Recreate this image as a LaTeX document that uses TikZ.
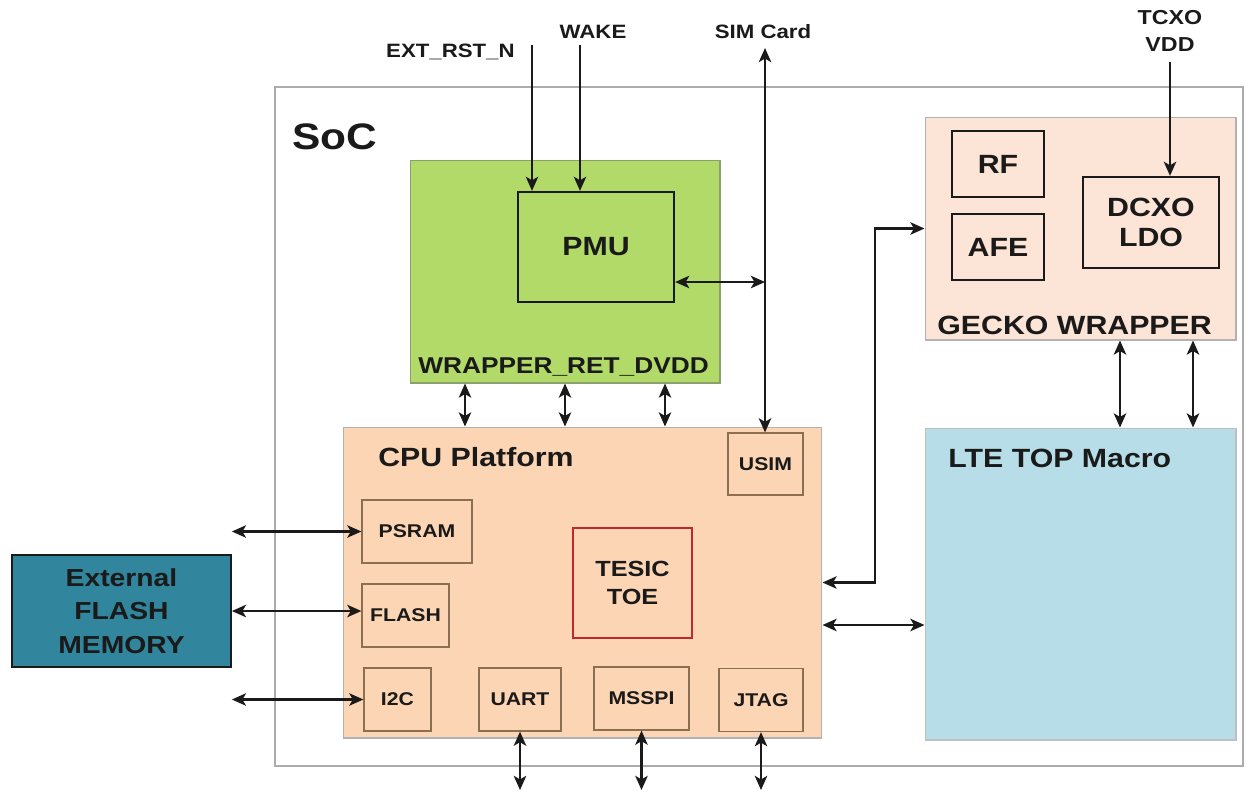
\documentclass[tikz,border=0pt]{standalone}
\usepackage{fontspec}
\setmainfont{Liberation Sans}[FakeStretch=1.15]
\usepackage{xcolor}
\usetikzlibrary{arrows.meta}
\definecolor{wrapcol}{RGB}{178,218,104}
\definecolor{wrapedge}{RGB}{140,160,110}
\definecolor{geckocol}{RGB}{252,228,214}
\definecolor{cpucol}{RGB}{252,213,181}
\definecolor{ltecol}{RGB}{183,222,232}
\definecolor{extcol}{RGB}{49,133,156}
\definecolor{subedge}{RGB}{140,110,80}
\definecolor{toecol}{RGB}{192,40,45}
\definecolor{ink}{RGB}{26,26,26}

\begin{document}
\begin{tikzpicture}[
    x=0.02cm, y=-0.02cm,
    every node/.style={inner sep=0pt, text=ink},
    area/.style={draw=#1, line width=0.6pt},
    box/.style={draw=ink, line width=1.3pt, align=center,
                font=\bfseries\fontsize{15}{17}\selectfont},
    sub/.style={draw=subedge, fill=cpucol, line width=0.7pt,
                minimum height=1.26cm, font=\bfseries\fontsize{10.5}{12}\selectfont},
    ttl/.style={anchor=west, font=\bfseries\fontsize{15}{17}\selectfont},
    pin/.style={font=\bfseries\fontsize{11}{13.5}\selectfont, align=center},
    arr/.style={-{Stealth[length=8pt, width=7pt, inset=2pt]}, line width=1.6pt, ink},
    bi/.style={{Stealth[length=8pt, width=7pt, inset=2pt]}-{Stealth[length=8pt, width=7pt, inset=2pt]},
               line width=1.6pt, ink},
  ]
  \useasboundingbox (0,0) rectangle (1250,792);

  % ── SoC ──
  \node[area=gray!65, line width=0.8pt, minimum width=19.36cm,
        minimum height=13.58cm] (soc) at (759,426.5) {};
  \node[ttl, font=\bfseries\fontsize{21}{24}\selectfont] (soclbl) at (292,137) {SoC};

  % ── Retention wrapper and PMU ──
  \node[area=wrapedge, fill=wrapcol, minimum width=6.2cm,
        minimum height=4.46cm] (wrap) at (565,271.5) {};
  \node[ttl, font=\bfseries\fontsize{13}{15}\selectfont] (wraplbl) at (418,367)
    {WRAPPER\_RET\_DVDD};
  \node[box, fill=wrapcol, minimum width=3.12cm, minimum height=2.2cm] (pmu)
    at (596,247) {PMU};

  % ── Gecko wrapper ──
  \node[area=gray!60, fill=geckocol, minimum width=6.22cm,
        minimum height=4.46cm] (gecko) at (1080.5,228.5) {};
  \node[ttl] (geckolbl) at (937,325) {GECKO WRAPPER};
  \node[box, minimum width=1.84cm, minimum height=1.32cm] (rf)  at (998,164) {RF};
  \node[box, minimum width=1.84cm, minimum height=1.32cm] (afe) at (998,247) {AFE};
  \node[box, minimum width=2.72cm, minimum height=1.82cm] (dcxo) at (1151,222.5)
    {DCXO\\LDO};

  % ── LTE ──
  \node[area=gray!50, fill=ltecol, minimum width=6.22cm,
        minimum height=6.24cm] (lte) at (1080.5,584) {};
  \node[ttl] (ltelbl) at (948,458) {LTE TOP Macro};

  % ── CPU platform ──
  \node[area=gray!60, fill=cpucol, minimum width=9.58cm,
        minimum height=6.22cm] (cpu) at (582.5,582.5) {};
  \node[ttl] (cpulbl) at (378,457) {CPU Platform};
  \node[sub, minimum width=1.5cm, minimum height=1.24cm] (usim) at (765.5,464) {USIM};
  \node[sub, minimum width=2.2cm]  (psram) at (417,531.5) {PSRAM};
  \node[sub, minimum width=1.74cm] (flash) at (405.5,615.5) {FLASH};
  \node[sub, minimum width=1.34cm] (i2c)   at (397.5,699.5) {I2C};
  \node[sub, minimum width=1.64cm] (uart)  at (520,699.5) {UART};
  \node[sub, minimum width=1.9cm]  (msspi) at (641.5,698.5) {MSSPI};
  \node[sub, minimum width=1.68cm] (jtag)  at (761,700) {JTAG};
  \node[box, draw=toecol, line width=1.1pt, minimum width=2.38cm, minimum height=2.2cm,
        font=\bfseries\fontsize{12.5}{16}\selectfont] (toe) at (632.5,583) {TESIC\\TOE};

  % ── External memory ──
  \node[area=ink, fill=extcol, line width=1pt, minimum width=4.38cm,
        minimum height=2.24cm, align=center,
        font=\bfseries\fontsize{14}{19}\selectfont] (ext) at (121.5,611)
    {External\\FLASH\\MEMORY};

  % ── Pins ──
  \node[pin, anchor=east] (rstlbl) at (515,52) {EXT\_RST\_N};
  \node[pin] (wakelbl) at (593,32) {WAKE};
  \node[pin] (simlbl)  at (763,32) {SIM Card};
  \node[pin, font=\bfseries\fontsize{11.5}{15}\selectfont] (tcxolbl) at (1170,31)
    {TCXO\\VDD};

  \coordinate (rst)    at (532,45);
  \coordinate (wake)   at (580,45);
  \coordinate (sim)    at (765,48);
  \coordinate (tcxo)   at (1170,62);
  \coordinate (pmusim) at (0,282);
  \coordinate (jog)    at (875,400);
  \coordinate (cpulte) at (0,625);
  \coordinate (pins)   at (0,790);

  % ── Connectors ──
  \draw[arr] (rst) -- (rst |- pmu.north);
  \draw[arr] (wake) -- (wake |- pmu.north);
  \draw[bi] (sim) -- (sim |- usim.north);
  \draw[bi] (pmu.east |- pmusim) -- (sim |- pmusim);
  \draw[arr] (tcxo) -- (tcxo |- dcxo.north);
  \foreach \xx in {465,565,665} {
    \coordinate (bus) at (\xx,0);
    \draw[bi] (bus |- wrap.south) -- (bus |- cpu.north);
  }
  \foreach \xx in {1120,1193} {
    \coordinate (bus) at (\xx,0);
    \draw[bi] (bus |- gecko.south) -- (bus |- lte.north);
  }
  \draw[bi] (cpu.east) -| (jog) |- (gecko.west);
  \draw[bi] (cpu.east |- cpulte) -- (lte.west |- cpulte);
  \draw[bi] (ext.east |- psram.west) -- (psram.west);
  \draw[bi] (ext.east) -- (ext.east -| flash.west);
  \draw[bi] (ext.east |- i2c.west) -- (i2c.west);
  \foreach \nn in {uart,msspi,jtag}
    \draw[bi] (\nn.south) -- (\nn.south |- pins);
\end{tikzpicture}
\end{document}
